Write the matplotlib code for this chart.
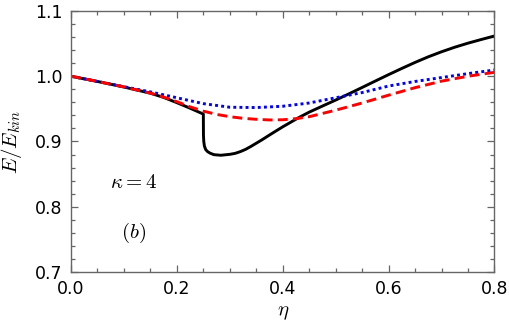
import matplotlib
matplotlib.use("Agg")
import matplotlib.pyplot as plt
from matplotlib.ticker import MultipleLocator, FormatStrFormatter

plt.rcParams['mathtext.fontset'] = 'cm'

# data (eta, E/E_kin)
eta_blue = [0.0, 0.05, 0.1, 0.15, 0.2, 0.25, 0.3, 0.35, 0.4, 0.45, 0.5, 0.55,
            0.6, 0.65, 0.7, 0.75, 0.8]
e_blue = [1.0, 0.992, 0.984, 0.976, 0.967, 0.958, 0.9525, 0.952, 0.954, 0.959,
          0.967, 0.975, 0.985, 0.992, 0.998, 1.004, 1.0096]

eta_red = [0.0, 0.05, 0.1, 0.15, 0.175, 0.2, 0.225, 0.25, 0.275, 0.3, 0.325,
           0.35, 0.375, 0.4, 0.425, 0.45, 0.5, 0.55, 0.6, 0.65, 0.7, 0.75, 0.8]
e_red = [1.0, 0.992, 0.9835, 0.974, 0.968, 0.961, 0.953, 0.9465, 0.9415, 0.938,
         0.9355, 0.934, 0.933, 0.9333, 0.935, 0.938, 0.948, 0.959, 0.971,
         0.9825, 0.9925, 1.0, 1.006]

eta_black = [0.0, 0.05, 0.1, 0.15, 0.175, 0.2, 0.225, 0.25, 0.2502, 0.2508,
             0.252, 0.2545, 0.258, 0.263, 0.27, 0.283, 0.3, 0.31, 0.32, 0.33,
             0.34, 0.36, 0.38, 0.4, 0.43, 0.45, 0.475, 0.5, 0.525, 0.55, 0.575,
             0.6, 0.625, 0.65, 0.675, 0.7, 0.725, 0.75, 0.775, 0.8]
e_black = [1.0, 0.992, 0.9835, 0.974, 0.9675, 0.9595, 0.951, 0.942, 0.91,
           0.900, 0.893, 0.8875, 0.8845, 0.882, 0.8798, 0.8789, 0.8803, 0.8818,
           0.8845, 0.888, 0.8925, 0.9022, 0.9125, 0.9225, 0.9365, 0.945,
           0.9543, 0.9635, 0.973, 0.9828, 0.9927, 1.0025, 1.012, 1.0212,
           1.0298, 1.0375, 1.0445, 1.0507, 1.0563, 1.0617]

fig = plt.figure(figsize=(5.09, 3.36), dpi=100)
ax = fig.add_axes([0.1395, 0.1905, 0.832, 0.7768])

ax.plot(eta_black, e_black, color='black', lw=2.1, solid_joinstyle='round')
ax.plot(eta_blue, e_blue, color='blue', lw=2.1, dashes=(1.0, 1.1),
        dash_capstyle='butt')
ax.plot(eta_red, e_red, color='red', lw=2.1, dashes=(3.4, 1.8),
        dash_capstyle='butt')

ax.set_xlim(0, 0.8)
ax.set_ylim(0.7, 1.1)
ax.xaxis.set_major_locator(MultipleLocator(0.2))
ax.xaxis.set_minor_locator(MultipleLocator(0.05))
ax.yaxis.set_major_locator(MultipleLocator(0.1))
ax.yaxis.set_minor_locator(MultipleLocator(0.02))
ax.xaxis.set_major_formatter(FormatStrFormatter('%.1f'))
ax.yaxis.set_major_formatter(FormatStrFormatter('%.1f'))

ax.tick_params(which='both', direction='in', top=True, right=True,
               color='#666666', width=0.9, labelsize=12.5)
ax.tick_params(which='major', length=5, pad=6)
ax.tick_params(which='minor', length=3)
for s in ax.spines.values():
    s.set_color('#666666')
    s.set_linewidth(1.0)

ax.set_xlabel(r'$\eta$', fontsize=15)
ax.set_ylabel(r'$E/E_{kin}$', fontsize=15)
ax.xaxis.set_label_coords(0.5, -0.115)
ax.yaxis.set_label_coords(-0.11, 0.5)

ax.text(0.119, 0.838, r'$\kappa=4$', fontsize=15, ha='center', va='center')
ax.text(0.119, 0.760, r'$(b)$', fontsize=15, ha='center', va='center')

fig.savefig('out.png', dpi=100)
